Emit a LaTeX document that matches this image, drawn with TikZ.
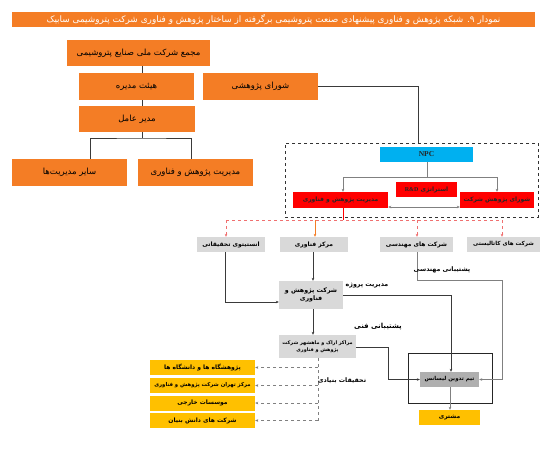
\documentclass[tikz,border=0pt]{standalone}
\usepackage{fontspec}
\usetikzlibrary{arrows.meta,calc}
\TeXXeTstate=1
\newfontfamily\arabicfont[Script=Arabic,BoldFont={DejaVu Sans Bold}]{DejaVu Sans}
\newfontfamily\latinserif{Liberation Serif}
\newcommand{\fa}[1]{{\arabicfont\beginR #1\endR}}
\definecolor{org}{HTML}{F47D25}
\definecolor{npc}{HTML}{00B0F0}
\definecolor{lgray}{HTML}{D9D9D9}
\definecolor{dgray}{HTML}{AFAFAF}
\definecolor{ylw}{HTML}{FFC000}
\definecolor{lnk}{HTML}{3A3A3A}
\definecolor{pinkred}{HTML}{F07070}
\tikzset{
  obox/.style={fill=org,draw=none,inner sep=0pt,font=\fontsize{8.5}{10}\selectfont,text=black},
  rbox/.style={fill=red,draw=none,inner sep=0pt,font=\fontsize{6.0}{7}\selectfont\bfseries,text=black!85},
  gbox/.style={fill=lgray,draw=none,inner sep=0pt,font=\fontsize{6.0}{7.2}\selectfont\bfseries,text=black,align=center},
  ybox/.style={fill=ylw,draw=none,inner sep=0pt,font=\fontsize{6.0}{7}\selectfont\bfseries,text=black},
  lbl/.style={inner sep=0pt,font=\fontsize{6.3}{7.5}\selectfont\bfseries,text=black},
  ln/.style={draw=lnk,line width=0.6pt},
  gln/.style={draw=gray,line width=0.7pt},
  arr/.style={-{Stealth[length=3pt,width=2.6pt]}},
}
\begin{document}
\begin{tikzpicture}[x=1pt,y=-1pt]
\useasboundingbox[fill=white] (0,0) rectangle (546,451);
% title
\node[fill=org,minimum width=523pt,minimum height=15pt,inner sep=0pt,text=white,font=\fontsize{8.9}{9.5}\selectfont] (title) at (273.5,19.5) {\fa{نمودار ۹. شبکه پژوهش و فناوری پیشنهادی صنعت پتروشیمی برگرفته از ساختار پژوهش و فناوری شرکت پتروشیمی سابیک}};
% org chart
\node[obox,minimum width=143pt,minimum height=26pt] (n1) at (138.5,53) {\fa{مجمع شرکت ملی صنایع پتروشیمی}};
\node[obox,minimum width=115pt,minimum height=27pt] (hm) at (136.5,86.5) {\fa{هیئت مدیره}};
\node[obox,minimum width=115pt,minimum height=27pt] (sp) at (260.5,86.5) {\fa{شورای پژوهشی}};
\node[obox,minimum width=116pt,minimum height=26pt] (ma) at (137,119) {\fa{مدیر عامل}};
\node[obox,minimum width=115pt,minimum height=27pt] (so) at (69.5,172.5) {\fa{سایر مدیریت‌ها}};
\node[obox,minimum width=115pt,minimum height=27pt] (mp) at (195.5,172.5) {\fa{مدیریت پژوهش و فناوری}};
\coordinate (fk) at (142,138);
\draw[ln] (n1.south -| fk) -- (hm.north -| fk);
\draw[ln] (hm.south -| fk) -- (ma.north -| fk);
\draw[ln] (ma.south -| fk) -- (fk);
\draw[ln] (so.north -| 90,0) |- (fk) -| (mp.north -| 191,0);
% group box
\node[draw=black!80,dashed,line width=0.8pt,minimum width=253pt,minimum height=74pt,inner sep=0pt] (grp) at (411.5,180) {};
\draw[ln] (sp.east) -- (418,86.5) -- (grp.north -| 418,0);
\node[fill=npc,inner sep=0pt,minimum width=93pt,minimum height=15pt,font=\latinserif\fontsize{7.5}{8}\selectfont\bfseries,text=black!85] (npc) at (426.5,154.5) {NPC};
\node[rbox,minimum width=95pt,minimum height=16pt] (r1) at (340.5,200) {\fa{مدیریت پژوهش و فناوری}};
\node[rbox,minimum width=61pt,minimum height=15pt] (r2) at (426.5,189.5) {\fa{استراتژی \beginL{\latinserif\bfseries R\&D}\endL}};
\node[rbox,minimum width=74pt,minimum height=16pt] (r3) at (497,200) {\fa{شورای پژوهش شرکت}};
\coordinate (nf) at (427,177);
\draw[gln] (npc.south -| nf) -- (nf);
\draw[gln,arr] (nf) -| (r1.north -| 343,0);
\draw[gln,arr] (nf) -| (r3.north -| 497,0);
\draw[gln,{Stealth[length=3pt,width=2.6pt]}-{Stealth[length=3pt,width=2.6pt]}] (r1.east |- 0,207) -- (r3.west |- 0,207);
% gray boxes
\node[gbox,minimum width=68pt,minimum height=15pt] (g1) at (231,244.5) {\fa{انستیتوی تحقیقاتی}};
\node[gbox,minimum width=68pt,minimum height=15pt] (g2) at (314,244.5) {\fa{مرکز فناوری}};
\node[gbox,minimum width=73pt,minimum height=15pt] (g3) at (416.5,244.5) {\fa{شرکت های مهندسی}};
\node[gbox,minimum width=73pt,minimum height=15pt,font=\fontsize{5.6}{7}\selectfont\bfseries] (g4) at (503.5,244.5) {\fa{شرکت های کاتالیستی}};
\coordinate (rf) at (343,220);
\draw[red,line width=0.6pt] (r1.south -| rf) -- (rf);
\draw[pinkred,dashed,line width=0.6pt] (226,220) -- (502,220);
\draw[pinkred,dashed,line width=0.6pt,arr] (226,220) -- (g1.north -| 226,0);
\draw[org,line width=0.6pt,arr] (315,220) -- (g2.north -| 315,0);
\draw[pinkred,dashed,line width=0.6pt,arr] (417,220) -- (g3.north -| 417,0);
\draw[pinkred,dashed,line width=0.6pt,arr] (502,220) -- (g4.north -| 502,0);
% lower part
\node[gbox,minimum width=64pt,minimum height=28pt,font=\fontsize{6.3}{7.5}\selectfont\bfseries] (rt) at (311,295) {\fa{شرکت پژوهش و}\\[1pt]\fa{فناوری}};
\node[gbox,minimum width=77pt,minimum height=23pt,font=\fontsize{4.9}{6}\selectfont\bfseries] (mk) at (317.5,346.5) {\fa{مراکز اراک و ماهشهر شرکت}\\[0.5pt]\fa{پژوهش و فناوری}};
\node[draw=black!85,line width=0.6pt,minimum width=84pt,minimum height=50pt,inner sep=0pt] (frm) at (450,378) {};
\node[fill=dgray,inner sep=0pt,minimum width=59pt,minimum height=15pt,font=\fontsize{5.5}{6.5}\selectfont\bfseries,text=black] (team) at (449.5,379.5) {\fa{تیم تدوین لیسانس}};
\node[ybox,minimum width=61pt,minimum height=15pt] (cus) at (449.5,417.5) {\fa{مشتری}};
\node[ybox,minimum width=105pt,minimum height=15pt] (y1) at (202.5,367.5) {\fa{پژوهشگاه ها و دانشگاه ها}};
\node[ybox,minimum width=105pt,minimum height=15pt,font=\fontsize{5.3}{6.5}\selectfont\bfseries] (y2) at (202.5,385.5) {\fa{مرکز تهران شرکت پژوهش و فناوری}};
\node[ybox,minimum width=105pt,minimum height=15pt] (y3) at (202.5,403) {\fa{موسسات خارجی}};
\node[ybox,minimum width=105pt,minimum height=15pt] (y4) at (202.5,420.5) {\fa{شرکت های دانش بنیان}};
% connectors
\draw[ln,arr] (g1.south -| 225,0) |- (rt.west |- 0,302);
\draw[ln,arr] (g2.south -| 313,0) -- (rt.north -| 313,0);
\draw[ln,arr] (rt.south -| 313,0) -- (mk.north -| 313,0);
\draw[ln,arr] (rt.east |- 0,295) -| (team.north -| 451,0);
\draw[ln,arr] (mk.east |- 0,347) -- (388,347) |- (team.west);
\draw[gln,arr] (g3.south -| 417,0) |- (502,280) |- (team.east);
\draw[gln,arr] (team.south -| 450,0) -- (cus.north -| 450,0);
\coordinate (dv) at (318,420.5);
\draw[gray,dashed,line width=0.6pt] (mk.south -| dv) -- (dv);
\foreach \y in {y1,y2,y3,y4}{
  \draw[gray,dashed,line width=0.6pt,arr] (\y.east -| dv) -- (\y.east);
}
% labels
\node[lbl] (l1) at (367,285) {\fa{مدیریت پروژه}};
\node[lbl,font=\fontsize{7}{8}\selectfont\bfseries] (l2) at (378,327) {\fa{پشتیبانی فنی}};
\node[lbl] (l3) at (442,270) {\fa{پشتیبانی مهندسی}};
\node[lbl] (l4) at (342,381) {\fa{تحقیقات بنیادی}};
\end{tikzpicture}
\end{document}
